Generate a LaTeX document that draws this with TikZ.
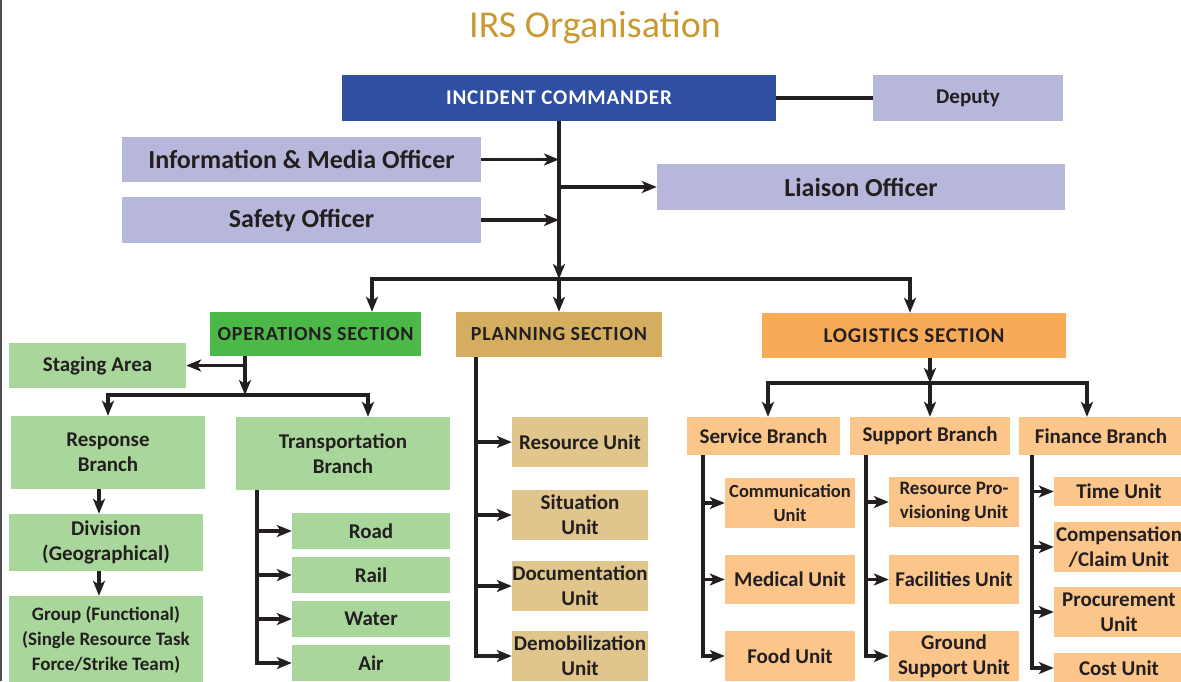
\documentclass[tikz,border=0pt]{standalone}
\usepackage{fontspec}
\setmainfont{Carlito}
\usetikzlibrary{arrows.meta}

\definecolor{ink}{HTML}{231F20}
\definecolor{titlegold}{HTML}{C99A33}
\definecolor{icblue}{HTML}{2F4FA2}
\definecolor{lavender}{HTML}{B7B6DB}
\definecolor{opsgreen}{HTML}{4BB848}
\definecolor{opslight}{HTML}{A9D79B}
\definecolor{plantan}{HTML}{D4AE5E}
\definecolor{planlight}{HTML}{E0C58C}
\definecolor{logorange}{HTML}{F8AA56}
\definecolor{loglight}{HTML}{FCC68B}

\begin{document}
\begin{tikzpicture}[x=1pt, y=-1pt,
  box/.style={rectangle, inner sep=0pt, align=center, text=ink,
    font=\bfseries\fontsize{21}{25}\selectfont},
  headbox/.style={box, font=\bfseries\fontsize{20}{24}\selectfont\addfontfeature{LetterSpace=4}},
  officer/.style={box, fill=lavender, font=\bfseries\fontsize{26}{30}\selectfont},
  arr/.style={draw=ink, line width=3.2pt, -{Stealth[length=15pt,width=12pt,inset=4pt]}},
  link/.style={draw=ink, line width=3.2pt}]
\useasboundingbox (0,0) rectangle (1181,681);
\draw[gray!60!black, line width=2pt] (1,0) -- (1,681);

\node[text=titlegold, font=\fontsize{38}{44}\selectfont] (title) at (595,28) {IRS Organisation};

% command staff
\node[headbox, fill=icblue, text=white, font=\bfseries\fontsize{21}{25}\selectfont\addfontfeature{LetterSpace=4},
  minimum width=434pt, minimum height=46pt] (ic) at (559,98) {INCIDENT COMMANDER};
\node[box, fill=lavender, minimum width=190pt, minimum height=46pt] (deputy) at (968,98) {Deputy};
\node[officer, minimum width=359pt, minimum height=45pt] (info) at (301.5,159.5) {Information \& Media Officer};
\node[officer, minimum width=359pt, minimum height=46pt] (safety) at (301.5,220) {Safety Officer};
\node[officer, minimum width=408pt, minimum height=46pt] (liaison) at (861,187) {Liaison Officer};

% sections
\node[headbox, fill=opsgreen, minimum width=211pt, minimum height=44pt] (ops) at (315.5,334) {OPERATIONS SECTION};
\node[headbox, fill=plantan, minimum width=206pt, minimum height=45pt] (plan) at (559,334.5) {PLANNING SECTION};
\node[headbox, fill=logorange, minimum width=304pt, minimum height=45pt,
  font=\bfseries\fontsize{21}{25}\selectfont\addfontfeature{LetterSpace=4}] (logi) at (914,335.5) {LOGISTICS SECTION};

% operations
\node[box, fill=opslight, minimum width=177pt, minimum height=45pt] (staging) at (97.5,365.5) {Staging Area};
\node[box, fill=opslight, minimum width=194pt, minimum height=73pt] (resp) at (108,452.5) {Response\\Branch};
\node[box, fill=opslight, minimum width=214pt, minimum height=73pt] (trans) at (343,453.5) {Transportation\\Branch};
\node[box, fill=opslight, minimum width=194pt, minimum height=57pt] (div) at (106,542.5) {Division\\(Geographical)};
\node[box, fill=opslight, minimum width=194pt, minimum height=88pt,
  font=\bfseries\fontsize{19}{25}\selectfont] (group) at (106,640) {Group (Functional)\\(Single Resource Task\\Force/Strike Team)};
\node[box, fill=opslight, minimum width=158pt, minimum height=36pt] (road) at (371,531) {Road};
\node[box, fill=opslight, minimum width=158pt, minimum height=36pt] (rail) at (371,575) {Rail};
\node[box, fill=opslight, minimum width=158pt, minimum height=36pt] (water) at (371,619) {Water};
\node[box, fill=opslight, minimum width=158pt, minimum height=36pt] (air) at (371,663) {Air};

% planning
\node[box, fill=planlight, minimum width=136pt, minimum height=50pt] (resunit) at (580,442) {Resource Unit};
\node[box, fill=planlight, minimum width=136pt, minimum height=50pt] (situnit) at (580,515) {Situation\\Unit};
\node[box, fill=planlight, minimum width=136pt, minimum height=50pt] (docunit) at (580,586) {Documentation\\Unit};
\node[box, fill=planlight, minimum width=136pt, minimum height=50pt] (demunit) at (580,656) {Demobilization\\Unit};

% logistics
\node[box, fill=loglight, minimum width=153pt, minimum height=38pt] (service) at (763.5,436) {Service Branch};
\node[box, fill=loglight, minimum width=160pt, minimum height=38pt] (support) at (930,436) {Support Branch};
\node[box, fill=loglight, minimum width=164pt, minimum height=38pt] (finance) at (1101,436) {Finance Branch};
\node[box, fill=loglight, minimum width=130pt, minimum height=50pt,
  font=\bfseries\fontsize{18.5}{24}\selectfont] (comm) at (790,503) {Communication\\Unit};
\node[box, fill=loglight, minimum width=130pt, minimum height=49pt] (medical) at (790,579.5) {Medical Unit};
\node[box, fill=loglight, minimum width=130pt, minimum height=50pt] (food) at (790,656) {Food Unit};
\node[box, fill=loglight, minimum width=130pt, minimum height=50pt,
  font=\bfseries\fontsize{19}{24}\selectfont] (resprov) at (954,502) {Resource Pro-\\visioning Unit};
\node[box, fill=loglight, minimum width=130pt, minimum height=49pt] (facil) at (954,579.5) {Facilities Unit};
\node[box, fill=loglight, minimum width=130pt, minimum height=50pt] (ground) at (954,656) {Ground\\Support Unit};
\node[box, fill=loglight, minimum width=130pt, minimum height=29pt] (time) at (1119,491.5) {Time Unit};
\node[box, fill=loglight, minimum width=130pt, minimum height=50pt] (comp) at (1119,547) {Compensation\\/Claim Unit};
\node[box, fill=loglight, minimum width=130pt, minimum height=50pt] (proc) at (1119,612) {Procurement\\Unit};
\node[box, fill=loglight, minimum width=130pt, minimum height=30pt] (cost) at (1119,668) {Cost Unit};

% command links
\draw[link] (ic) -- (deputy);
\draw[arr] (info.east) -- (info.east -| ic.south);
\draw[arr] (safety.east) -- (safety.east -| ic.south);
\draw[arr] (liaison.west -| ic.south) -- (liaison.west);
\coordinate (topbar) at (559,279);
\draw[arr] (ic.south) -- (topbar);
\draw[arr] (topbar) -| ([xshift=56.5pt]ops.north);
\draw[arr] (topbar) -- (plan.north);
\draw[arr] (topbar) -| ([xshift=-4pt]logi.north);

% operations links
\coordinate (opsdrop) at ([xshift=-70.5pt]ops.south);
\coordinate (opsbar) at (245,395);
\draw[arr] (opsdrop) -- (opsbar);
\draw[arr] (opsdrop |- staging.east) -- (staging.east);
\draw[arr] (opsbar) -| (resp.north);
\draw[arr] (opsbar) -| ([xshift=25pt]trans.north);
\draw[arr] ([xshift=-9pt]resp.south) -- ([xshift=-9pt]resp.south |- div.north);
\draw[arr] ([xshift=-7pt]div.south) -- ([xshift=-7pt]div.south |- group.north);
\coordinate (tspine) at ([xshift=-86pt]trans.south);
\draw[arr] (tspine) |- (air.west);
\draw[arr] (tspine |- road.west) -- (road.west);
\draw[arr] (tspine |- rail.west) -- (rail.west);
\draw[arr] (tspine |- water.west) -- (water.west);

% planning links
\coordinate (pspine) at ([xshift=-83pt]plan.south);
\draw[arr] (pspine) |- (demunit.west);
\draw[arr] (pspine |- resunit.west) -- (resunit.west);
\draw[arr] (pspine |- situnit.west) -- (situnit.west);
\draw[arr] (pspine |- docunit.west) -- (docunit.west);

% logistics links
\coordinate (logbar) at (930,383);
\draw[arr] ([xshift=16pt]logi.south) -- (logbar);
\draw[arr] (logbar) -| ([xshift=4.5pt]service.north);
\draw[arr] (logbar) -- (support.north);
\draw[arr] (logbar) -| ([xshift=-14pt]finance.north);
\coordinate (svspine) at ([xshift=-60.5pt]service.south);
\draw[arr] (svspine) |- (food.west);
\draw[arr] (svspine |- comm.west) -- (comm.west);
\draw[arr] (svspine |- medical.west) -- (medical.west);
\coordinate (spspine) at ([xshift=-64pt]support.south);
\draw[arr] (spspine) |- (ground.west);
\draw[arr] (spspine |- resprov.west) -- (resprov.west);
\draw[arr] (spspine |- facil.west) -- (facil.west);
\coordinate (fnspine) at ([xshift=-69pt]finance.south);
\draw[arr] (fnspine) |- (cost.west);
\draw[arr] (fnspine |- time.west) -- (time.west);
\draw[arr] (fnspine |- comp.west) -- (comp.west);
\draw[arr] (fnspine |- proc.west) -- (proc.west);
\end{tikzpicture}
\end{document}
